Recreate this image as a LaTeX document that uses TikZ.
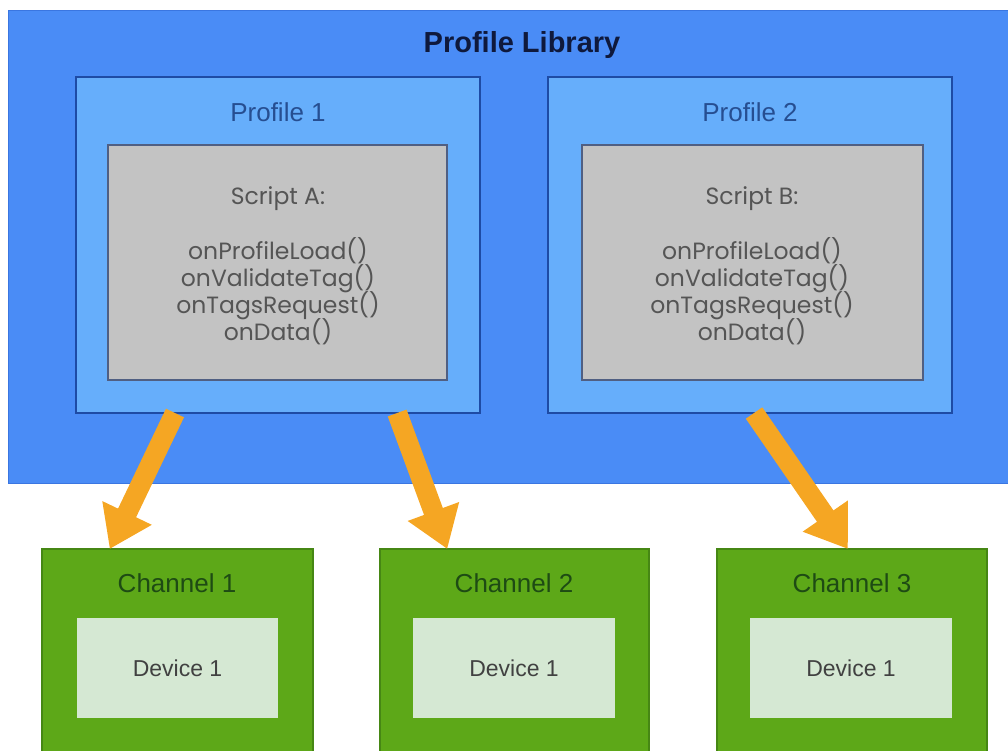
\documentclass[tikz,border=0pt]{standalone}
\usepackage{fontspec}
\setmainfont{Liberation Sans}
\newfontfamily\geofont{Poppins}
\usetikzlibrary{arrows.meta,calc}
\definecolor{libblue}{RGB}{74,140,246}
\definecolor{libedge}{RGB}{58,118,225}
\definecolor{profblue}{RGB}{102,174,251}
\definecolor{profedge}{RGB}{30,75,165}
\definecolor{proftext}{RGB}{38,78,145}
\definecolor{scriptgray}{RGB}{195,195,195}
\definecolor{scriptedge}{RGB}{80,95,130}
\definecolor{scripttext}{RGB}{85,85,85}
\definecolor{chgreen}{RGB}{93,168,24}
\definecolor{chedge}{RGB}{70,135,20}
\definecolor{chtext}{RGB}{30,75,20}
\definecolor{devfill}{RGB}{213,232,211}
\definecolor{devtext}{RGB}{65,65,65}
\definecolor{arroworange}{RGB}{245,166,35}
\definecolor{titlenavy}{RGB}{15,25,60}
\tikzset{
  box/.style={rectangle, inner sep=0pt, outer sep=0pt, anchor=north west},
  libbox/.style={box, fill=libblue, draw=libedge, line width=1pt},
  profbox/.style={box, fill=profblue, draw=profedge, line width=2pt},
  scriptbox/.style={box, fill=scriptgray, draw=scriptedge, line width=1.5pt},
  chanbox/.style={box, fill=chgreen, draw=chedge, line width=1.2pt},
  devbox/.style={box, fill=devfill, draw=none},
  libtitle/.style={font=\fontsize{29}{33}\selectfont\bfseries, text=titlenavy},
  proftitle/.style={font=\fontsize{26}{30}\selectfont, text=proftext},
  scripttxt/.style={font=\geofont\fontsize{23.5}{27}\selectfont, text=scripttext, inner sep=0pt, text height=17pt, text depth=5pt},
  chantitle/.style={font=\fontsize{26}{30}\selectfont, text=chtext},
  devtxt/.style={font=\fontsize{23}{27}\selectfont, text=devtext},
  flow/.style={draw=arroworange, line width=20pt, -{Triangle[width=52pt,length=40pt]}}
}
\begin{document}
\begin{tikzpicture}[x=1pt,y=-1pt]
\useasboundingbox (0,0) rectangle (1008,750);
\clip (0,0) rectangle (1008,750);
% library
\node[libbox, minimum width=1010pt, minimum height=473pt] (lib) at (8,10) {};
\node[libtitle] (libt) at (522,45) {Profile Library};
% profiles
\node[profbox, minimum width=404pt, minimum height=336pt] (p1) at (76,77) {};
\node[profbox, minimum width=404pt, minimum height=336pt] (p2) at (548,77) {};
\node[proftitle] (p1t) at (278,112) {Profile 1};
\node[proftitle] (p2t) at (750,112) {Profile 2};
% scripts
\node[scriptbox, minimum width=339pt, minimum height=235pt] (sa) at (108,145) {};
\node[scriptbox, minimum width=341pt, minimum height=235pt] (sb) at (582,145) {};
\node[scripttxt] (sat) at (278,198) {Script A:};
\node[scripttxt] (sa1) at (278,253) {onProfileLoad()};
\node[scripttxt] (sa2) at (278,280) {onValidateTag()};
\node[scripttxt] (sa3) at (278,307) {onTagsRequest()};
\node[scripttxt] (sa4) at (278,334) {onData()};
\node[scripttxt] (sbt) at (752,198) {Script B:};
\node[scripttxt] (sb1) at (752,253) {onProfileLoad()};
\node[scripttxt] (sb2) at (752,280) {onValidateTag()};
\node[scripttxt] (sb3) at (752,307) {onTagsRequest()};
\node[scripttxt] (sb4) at (752,334) {onData()};
% channels
\node[chanbox, minimum width=271pt, minimum height=210pt] (c1) at (42,549) {};
\node[chanbox, minimum width=269pt, minimum height=210pt] (c2) at (380,549) {};
\node[chanbox, minimum width=270pt, minimum height=210pt] (c3) at (717,549) {};
\node[chantitle] (c1t) at (177,583) {Channel 1};
\node[chantitle] (c2t) at (514,583) {Channel 2};
\node[chantitle] (c3t) at (852,583) {Channel 3};
\node[devbox, minimum width=201pt, minimum height=100pt] (d1) at (77,618) {};
\node[devbox, minimum width=202pt, minimum height=100pt] (d2) at (413,618) {};
\node[devbox, minimum width=202pt, minimum height=100pt] (d3) at (750,618) {};
\node[devtxt] (d1t) at (d1.center) {Device 1};
\node[devtxt] (d2t) at (d2.center) {Device 1};
\node[devtxt] (d3t) at (d3.center) {Device 1};
% arrows
\coordinate (a1s) at ($(p1.south west)!0.245!(p1.south east)$);
\coordinate (a2s) at ($(p1.south west)!0.795!(p1.south east)$);
\coordinate (a3s) at ($(p2.south west)!0.51!(p2.south east)$);
\coordinate (a1e) at ($(c1.north west)!0.25!(c1.north east)$);
\coordinate (a2e) at ($(c2.north west)!0.25!(c2.north east)$);
\coordinate (a3e) at ($(c3.north west)!0.485!(c3.north east)$);
\draw[flow] (a1s) -- (a1e);
\draw[flow] (a2s) -- (a2e);
\draw[flow] (a3s) -- (a3e);
\end{tikzpicture}
\end{document}
